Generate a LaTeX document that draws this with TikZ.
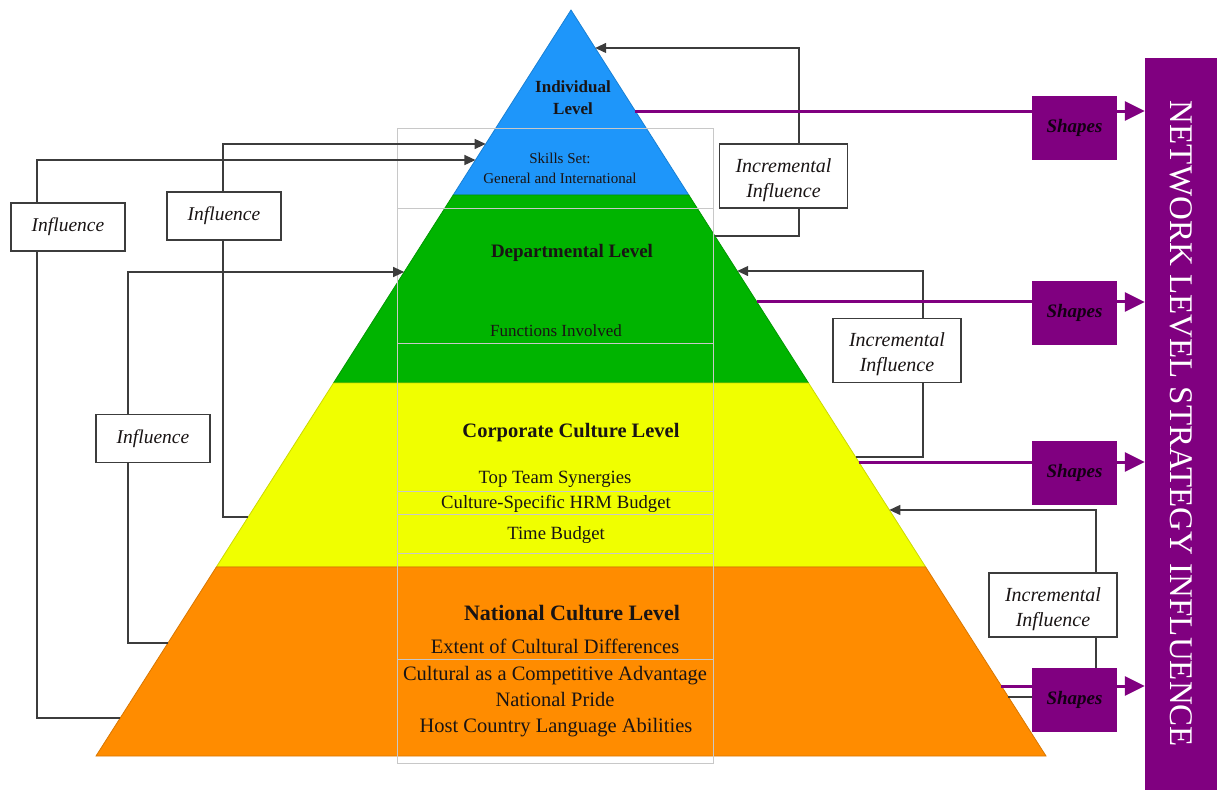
\documentclass[tikz,border=0pt]{standalone}
\usepackage{fontspec}
\setmainfont{Liberation Serif}
\usetikzlibrary{arrows.meta,calc}
\definecolor{lvlblue}{RGB}{30,150,250}
\definecolor{lvlgreen}{RGB}{0,180,0}
\definecolor{lvlyellow}{RGB}{240,255,0}
\definecolor{lvlorange}{RGB}{255,140,0}
\definecolor{netpurple}{RGB}{128,0,128}
\definecolor{gridgrey}{RGB}{200,200,200}
\definecolor{linegrey}{RGB}{60,60,60}
\definecolor{inkdark}{RGB}{25,20,20}
\tikzset{
  lvltitle/.style={text=inkdark, anchor=base, font=\fontsize{#1}{#1}\selectfont\bfseries},
  lvlitem/.style={text=inkdark, anchor=base, font=\fontsize{#1}{#1}\selectfont},
  infbox/.style={draw=linegrey, line width=1.4pt, fill=white, inner sep=0pt,
    minimum width=114pt, minimum height=48pt, text=inkdark,
    font=\fontsize{19.5}{22}\selectfont\itshape},
  incbox/.style={infbox, minimum width=128pt, minimum height=64pt, align=center,
    font=\fontsize{20}{25}\selectfont\itshape},
  shapebox/.style={fill=netpurple, inner sep=0pt, minimum width=85pt, minimum height=64pt,
    text=black!85!netpurple, font=\fontsize{19}{22}\selectfont\bfseries\itshape},
  feed/.style={draw=linegrey, line width=1.3pt},
  feedarrow/.style={feed, -{Triangle[length=11pt,width=10pt]}},
  shapeline/.style={draw=netpurple, line width=3pt},
  shapearrow/.style={shapeline, -{Triangle[length=20pt,width=19pt]}}
}
\begin{document}
\begin{tikzpicture}[x=1pt,y=-1pt]
\useasboundingbox (0,0) rectangle (1219,790);
\coordinate (apex) at (571,10);
\coordinate (bl) at (96,756);
\coordinate (br) at (1046,756);
% pyramid bands
\foreach \top/\bot/\col in {0/0.248/lvlblue,0.248/0.5/lvlgreen,0.5/0.7466/lvlyellow,0.7466/1/lvlorange}{
\filldraw[fill=\col, draw=\col!85!black, line width=0.8pt]
  ($(apex)!\top!(bl)$) -- ($(apex)!\bot!(bl)$) -- ($(apex)!\bot!(br)$) -- ($(apex)!\top!(br)$) -- cycle;
}
% table grid
\draw[gridgrey, line width=1pt] (397,128) rectangle (713,763);
\foreach \y in {208,343,491,514,553,659}{
\draw[gridgrey, line width=1pt] (397,\y) -- (713,\y);
}
% level texts
\node[text=inkdark, align=center, font=\fontsize{17}{22}\selectfont\bfseries] (indiv) at (573,98) {Individual\\Level};
\node[text=inkdark, align=center, font=\fontsize{15}{20}\selectfont] (skills) at (560,168) {Skills Set:\\General and International};
\node[lvltitle=19] (dept) at (572,257) {Departmental Level};
\node[lvlitem=17] (func) at (556,336) {Functions Involved};
\node[lvltitle=20.5] (corp) at (571,437) {Corporate Culture Level};
\node[lvlitem=18.7] (team) at (555,483) {Top Team Synergies};
\node[lvlitem=18.7] (hrm) at (556,508) {Culture-Specific HRM Budget};
\node[lvlitem=18.7] (time) at (556,539) {Time Budget};
\node[lvltitle=22] (natl) at (572,620) {National Culture Level};
\node[lvlitem=20.5] (extent) at (555,653) {Extent of Cultural Differences};
\node[lvlitem=20.5] (compet) at (555,680) {Cultural as a Competitive Advantage};
\node[lvlitem=20.5] (pride) at (555,706) {National Pride};
\node[lvlitem=20.5] (lang) at (556,732) {Host Country Language Abilities};

% left influence boxes
\node[infbox] (inf1) at (68,227) {Influence\hspace{10pt}};
\node[infbox] (inf2) at (224,216) {Influence\hspace{10pt}};
\node[infbox] (inf3) at (153,438.5) {Influence\hspace{10pt}};
\coordinate (inf1x) at (37,0);
\coordinate (inf2x) at (223,0);
\coordinate (inf3x) at (128,0);
\coordinate (tipA) at ($(apex)!0.2011!(bl)$);
\coordinate (footA) at ($(apex)!0.9491!(bl)$);
\coordinate (tipB) at ($(apex)!0.1796!(bl)$);
\coordinate (footB) at ($(apex)!0.6796!(bl)$);
\coordinate (tipC) at ($(apex)!0.3512!(bl)$);
\coordinate (footC) at ($(apex)!0.8485!(bl)$);
\draw[feedarrow] (inf1.north -| inf1x) |- (tipA);
\draw[feed] (inf1.south -| inf1x) |- (footA);
\draw[feedarrow] (inf2.north -| inf2x) |- (tipB);
\draw[feed] (inf2.south -| inf2x) |- (footB);
\draw[feedarrow] (inf3.north -| inf3x) |- (tipC);
\draw[feed] (inf3.south -| inf3x) |- (footC);

% right incremental boxes
\node[incbox] (inc1) at (783.5,176) {\rule{0pt}{22pt}Incremental\\Influence};
\node[incbox] (inc2) at (897,350.5) {\rule{0pt}{22pt}Incremental\\Influence};
\node[incbox] (inc3) at (1053,605) {\rule{0pt}{22pt}Incremental\\Influence};
\coordinate (inc1x) at (799,0);
\coordinate (inc2x) at (923,0);
\coordinate (inc3x) at (1096,0);
\coordinate (tipD) at ($(apex)!0.0509!(br)$);
\coordinate (footD) at ($(apex)!0.3029!(br)$);
\coordinate (tipE) at ($(apex)!0.3499!(br)$);
\coordinate (footE) at ($(apex)!0.5992!(br)$);
\coordinate (tipF) at ($(apex)!0.6702!(br)$);
\coordinate (footF) at ($(apex)!0.9209!(br)$);
\draw[feedarrow] (inc1.north -| inc1x) |- (tipD);
\draw[feed] (inc1.south -| inc1x) |- (footD);
\draw[feedarrow] (inc2.north -| inc2x) |- (tipE);
\draw[feed] (inc2.south -| inc2x) |- (footE);
\draw[feedarrow] (inc3.north -| inc3x) |- (tipF);
\draw[feed] (inc3.south -| inc3x) |- (footF);

% network bar and shapes
\node[fill=netpurple, inner sep=0pt, minimum width=72pt, minimum height=732pt] (net) at (1181,424) {};
\node[rotate=-90, text=white, font=\fontsize{33}{33}\selectfont] (nettext) at (net.center) {NETWORK LEVEL STRATEGY INFLUENCE};
\foreach \n/\y in {1/128,2/313,3/473,4/700}{
\node[shapebox] (shp\n) at (1074.5,\y) {Shapes};
}
\foreach \n/\f in {1/0.1354,2/0.3914,3/0.6059,4/0.9062}{
\coordinate (s\n) at ($(apex)!\f!(br)$);
\draw[shapeline] (s\n) -- (s\n -| shp\n.west);
\draw[shapearrow] (s\n -| shp\n.east) -- (s\n -| net.west);
}
\end{tikzpicture}
\end{document}
